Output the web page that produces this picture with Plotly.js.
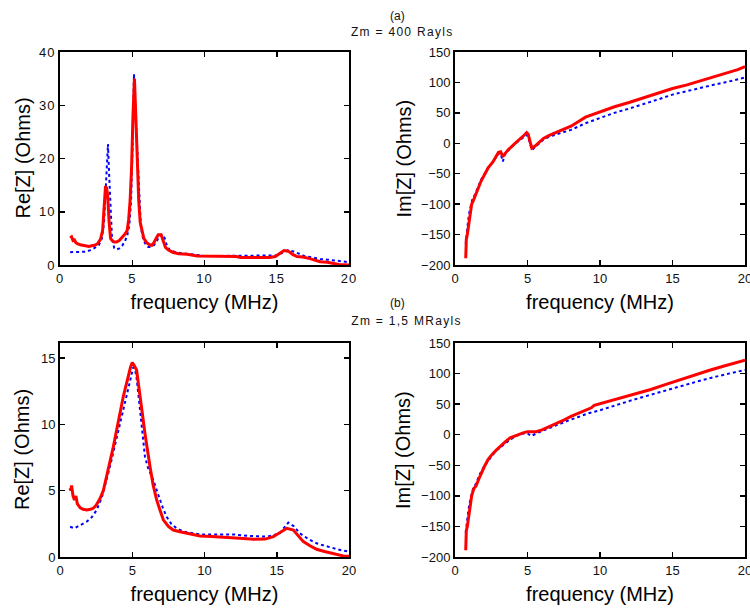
<!DOCTYPE html>
<html>
<head>
<meta charset="utf-8">
<script src="https://cdn.plot.ly/plotly-3.0.1.min.js"></script>
<style>
  html, body { margin: 0; padding: 0; background: #fff; }
  #chart { width: 750px; height: 610px; }
  .xtick text, .ytick text { letter-spacing: 1px; }
  .annotation[data-index="1"] text, .annotation[data-index="3"] text { letter-spacing: 1.3px; }
</style>
</head>
<body>
<div id="chart"></div>
<script>
// ---------- Data ----------
// Panel (a) Zm = 400 Rayls, Re[Z]
var freqReA_meas = [0.7,0.8,0.9,1.0,1.1,1.2,1.4,1.6,1.8,2.0,2.2,2.4,2.6,2.8,2.95,3.05,3.15,3.22,3.3,3.4,3.5,3.6,3.75,3.9,4.1,4.3,4.5,4.65,4.75,4.85,4.95,5.05,5.15,5.22,5.3,5.38,5.45,5.55,5.65,5.8,6.0,6.2,6.35,6.5,6.65,6.8,7.0,7.15,7.3,7.5,7.8,8.2,8.8,9.5,10.5,11.5,12.2,12.5,13.5,14.5,14.9,15.2,15.5,15.8,16.1,16.4,16.8,17.3,17.6,18.0,18.5,18.9,19.3,20.0];
var reA_meas = [5.1,5.3,4.6,4.7,4.2,4.0,3.8,3.7,3.6,3.5,3.6,3.7,4.0,4.8,6.5,10.5,14.8,14.5,13,8,5,4.6,4.3,4.3,4.6,5.2,5.8,6.5,8.5,12,18,28,35,30,22,15,12,8,6.5,5,4.2,3.8,3.7,4.2,5.0,5.7,5.7,4.5,3.3,2.8,2.4,2.1,2.0,1.7,1.7,1.7,1.6,1.4,1.4,1.4,1.6,2.1,2.7,2.6,2.0,1.6,1.5,1.2,1.0,0.6,0.5,0.3,0.1,0.0];
var freqReA_model = [0.7,1.0,1.4,1.8,2.1,2.4,2.7,2.9,3.05,3.15,3.25,3.32,3.4,3.5,3.6,3.75,3.9,4.1,4.3,4.5,4.65,4.8,4.92,5.02,5.12,5.2,5.3,5.4,5.5,5.6,5.75,5.9,6.1,6.3,6.5,6.7,6.9,7.1,7.25,7.4,7.6,8.0,8.5,9.0,10,11,12,13,14,15,15.4,15.8,16.2,16.6,17.0,17.5,18,18.5,19,19.5,20];
var reA_model = [2.4,2.4,2.4,2.5,2.8,3.2,3.8,5,8,13,19,22.7,17,10,5,3.2,2.9,3.1,3.6,4.5,5.5,7.5,12,22,35.9,30,24,16,10,7,5,4,3.4,3.4,3.7,4.5,5.6,5.7,5,3.6,2.8,2.4,2.2,2.0,1.7,1.7,1.7,1.7,1.7,1.8,2.3,2.8,2.5,2.0,1.6,1.4,1.1,1.0,0.9,0.7,0.5];

// Panel (a) Im[Z]
var freqImA_meas = [0.74,0.74,0.78,0.85,0.95,1.05,1.15,1.25,1.4,1.6,1.8,2.07,2.3,2.6,2.85,3.0,3.15,3.3,3.45,3.7,4.14,4.5,4.8,4.94,5.05,5.15,5.3,5.5,5.75,6.1,6.5,7.0,7.5,8.0,9.0,9.66,11,12,13,14,15,16,16.55,17.5,18.5,19.5,20];
var imA_meas = [-189,-165,-158,-150,-130,-115,-100,-95,-85,-75,-62,-50,-40,-31,-22,-15,-14,-22,-17,-10,0,7,14,17.5,15,5,-8,-5,0,8,13,18,23,28,43,49,60,67,75,83,90,96,100,106,113,121,126];
var freqImA_model = [0.74,0.8,0.9,1.0,1.1,1.2,1.4,1.6,1.8,2.07,2.3,2.6,2.85,3.0,3.15,3.3,3.45,3.7,4.14,4.5,4.8,4.94,5.05,5.15,5.3,5.5,5.75,6.1,6.5,7.0,7.5,8.0,9.0,10,11,12,13,14,15,16,17,18,18.8,19.5,20];
var imA_model = [-165,-145,-128,-112,-100,-92,-83,-72,-60,-49,-39,-31,-22,-17,-17,-30,-18,-11,-1,6,12,14,10,2,-11,-7,-2,6,11,15,18,22,33,42,50,57,64,72,80,86,92,97,101,105,108];

// Panel (b) Zm = 1,5 MRayls, Re[Z]
var freqReB_meas = [0.7,0.75,0.8,0.85,0.9,1.0,1.1,1.2,1.4,1.6,1.85,2.1,2.3,2.5,2.77,3.0,3.23,3.45,3.69,3.85,4.04,4.2,4.38,4.55,4.73,4.88,5.0,5.1,5.3,5.54,5.7,5.88,6.05,6.23,6.45,6.69,6.9,7.15,7.5,7.84,8.3,8.77,9.2,9.69,10.5,11.5,12.0,12.7,13.4,14.2,14.76,15.2,15.7,16.15,16.5,16.84,17.3,17.76,18.3,18.9,19.6,20];
var reB_meas = [5.2,5.0,5.4,4.8,4.6,4.3,4.6,4.0,3.7,3.6,3.55,3.6,3.67,3.9,4.4,5.0,6.05,7.1,8.3,9.2,10.1,11.1,12.1,12.9,13.6,14.3,14.65,14.5,14.1,12.3,10.8,9.3,8.0,6.8,5.4,4.3,3.6,2.8,2.3,2.03,1.9,1.78,1.7,1.58,1.55,1.5,1.48,1.4,1.33,1.35,1.53,1.8,2.16,2.03,1.6,1.16,0.85,0.58,0.42,0.28,0.08,0.05];
var freqReB_model = [0.7,1.0,1.4,1.85,2.2,2.54,2.9,3.23,3.5,3.69,4.0,4.27,4.5,4.73,4.9,5.07,5.2,5.3,5.45,5.65,5.88,6.1,6.46,6.7,6.92,7.15,7.38,7.7,8.07,8.6,9.7,11,12,13,14.3,15.2,15.5,15.8,16.2,16.6,17.2,17.76,18.3,18.9,19.5,20];
var reB_model = [2.28,2.16,2.4,2.66,3.0,3.54,4.5,5.8,7.0,7.9,9.3,10.6,11.6,12.6,13.5,14.3,14.1,13.5,12.0,9.8,7.56,6.7,5.8,5.0,4.3,3.6,3.04,2.5,2.16,1.9,1.7,1.7,1.7,1.6,1.53,1.78,2.2,2.6,2.3,1.78,1.35,1.03,0.85,0.65,0.5,0.4];

// Panel (b) Im[Z]
var freqImB_meas = [0.74,0.74,0.78,0.85,0.95,1.05,1.15,1.3,1.45,1.65,1.85,2.07,2.3,2.6,2.9,3.2,3.5,3.8,4.1,4.37,4.7,5.0,5.3,5.6,6.0,6.5,7.0,7.5,8.0,8.7,9.4,9.6,10.5,11.5,12.5,13.5,14.5,15.5,16.5,17.5,18.5,19.5,20];
var imB_meas = [-189,-162,-157,-150,-132,-115,-100,-88,-84,-72,-60,-50,-40,-31,-24,-17,-11,-5,-2,0,3,5,5,5,8,13,18,24,30,37,44,48,54,60,67,74,82,90,97,105,112,119,122];
var freqImB_model = [0.74,0.8,0.9,1.0,1.1,1.25,1.45,1.7,2.0,2.3,2.6,2.9,3.2,3.5,3.8,4.1,4.4,4.7,5.0,5.25,5.5,5.8,6.2,6.7,7.2,7.8,8.5,9.2,10,11,12,13,14,15,16,17,18,19,20];
var imB_model = [-160,-145,-128,-112,-100,-88,-80,-65,-52,-42,-33,-25,-19,-13,-8,-4,0,2,2,-2,1,4,8,13,17,23,29,35,40,48,55,62,69,76,83,89,95,101,106];

// Label texts
var xTitle = 'frequency (MHz)';
var reTitle = 'Re[Z] (Ohms)';
var imTitle = 'Im[Z] (Ohms)';
var panelLabels = ['(a)', 'Zm = 400 Rayls', '(b)', 'Zm = 1,5 MRayls'];

// ---------- Styling ----------
var FONT = 'Liberation Sans, Arial, Helvetica, sans-serif';
var RED = '#ff0000';
var BLUE = '#0000ff';
var W = 750, H = 610;

function px(x) { return x / W; }
function py(y) { return 1 - y / H; }

function meas(x, y, xa, ya) {
  return { x: x, y: y, xaxis: xa, yaxis: ya, mode: 'lines', type: 'scatter',
           line: { color: RED, width: 3 }, hoverinfo: 'skip', showlegend: false };
}
function model(x, y, xa, ya) {
  return { x: x, y: y, xaxis: xa, yaxis: ya, mode: 'lines', type: 'scatter',
           line: { color: BLUE, width: 2, dash: 'dot' }, hoverinfo: 'skip', showlegend: false };
}

function axisBase(extra) {
  var a = {
    showline: true, linecolor: '#000', linewidth: 2, mirror: 'ticks',
    ticks: 'inside', ticklen: 5, tickwidth: 1.5, tickcolor: '#000',
    showgrid: false, zeroline: false, fixedrange: true,
    ticklabeloverflow: 'allow',
    tickfont: { family: FONT, size: 13, color: '#111' }
  };
  for (var k in extra) a[k] = extra[k];
  return a;
}
function xAxis(domain, anchor) {
  return axisBase({ domain: domain, anchor: anchor, range: [0, 20], tick0: 0, dtick: 5,
    title: { text: xTitle, font: { family: FONT, size: 20, color: '#000' }, standoff: 10 } });
}
function yAxis(domain, anchor, range, dtick) {
  return axisBase({ domain: domain, anchor: anchor, range: range, tick0: 0, dtick: dtick });
}

var colL = [px(60), px(349)];
var colR = [px(455), px(745)];
var rowT = [py(265), py(52)];
var rowB = [py(557), py(343)];

var data = [
  model(freqReA_model, reA_model, 'x', 'y'),
  meas(freqReA_meas, reA_meas, 'x', 'y'),
  model(freqImA_model, imA_model, 'x2', 'y2'),
  meas(freqImA_meas, imA_meas, 'x2', 'y2'),
  model(freqReB_model, reB_model, 'x3', 'y3'),
  meas(freqReB_meas, reB_meas, 'x3', 'y3'),
  model(freqImB_model, imB_model, 'x4', 'y4'),
  meas(freqImB_meas, imB_meas, 'x4', 'y4')
];

function ann(text, x, y) {
  return { text: text, x: px(x), y: py(y), xref: 'paper', yref: 'paper',
           xanchor: 'center', yanchor: 'middle', showarrow: false,
           font: { family: FONT, size: 12, color: '#111' } };
}
function yTitleAnn(text, x, y) {
  return { text: text, x: px(x), y: py(y), xref: 'paper', yref: 'paper',
           xanchor: 'center', yanchor: 'middle', showarrow: false, textangle: -90,
           font: { family: FONT, size: 20, color: '#000' } };
}

var layout = {
  width: W, height: H,
  margin: { l: 0, r: 0, t: 0, b: 0 },
  paper_bgcolor: '#fff', plot_bgcolor: '#fff',
  font: { family: FONT },
  xaxis: xAxis(colL, 'y'),
  yaxis: yAxis(rowT, 'x', [0, 40], 10),
  xaxis2: xAxis(colR, 'y2'),
  yaxis2: yAxis(rowT, 'x2', [-200, 150], 50),
  xaxis3: xAxis(colL, 'y3'),
  yaxis3: yAxis(rowB, 'x3', [0, 16.13], 5),
  xaxis4: xAxis(colR, 'y4'),
  yaxis4: yAxis(rowB, 'x4', [-200, 150], 50),
  annotations: [
    ann(panelLabels[0], 398, 16),
    ann(panelLabels[1], 402, 32),
    ann(panelLabels[2], 397, 303),
    ann(panelLabels[3], 406, 321),
    yTitleAnn(reTitle, 22, 158.5),
    yTitleAnn(imTitle, 403, 158.5),
    yTitleAnn(reTitle, 22, 450),
    yTitleAnn(imTitle, 403, 450)
  ]
};

Plotly.newPlot('chart', data, layout, { staticPlot: true, displayModeBar: false });
</script>
</body>
</html>
